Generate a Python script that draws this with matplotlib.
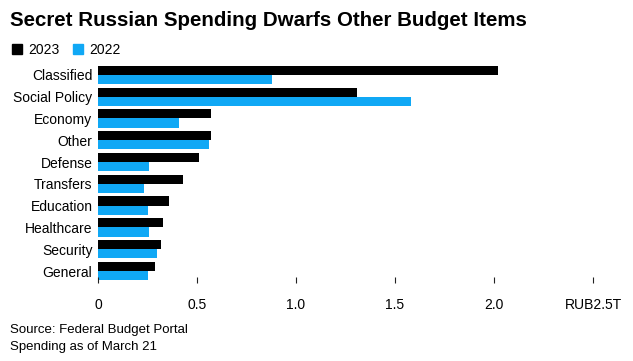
import matplotlib
matplotlib.use("Agg")
import matplotlib.pyplot as plt
from matplotlib.patches import Patch
import numpy as np

plt.rcParams['font.family'] = ['Liberation Sans', 'DejaVu Sans']

categories = ["Classified", "Social Policy", "Economy", "Other", "Defense",
              "Transfers", "Education", "Healthcare", "Security", "General"]
spend_2023 = [2.02, 1.31, 0.57, 0.57, 0.51, 0.43, 0.36, 0.33, 0.32, 0.29]
spend_2022 = [0.88, 1.58, 0.41, 0.56, 0.26, 0.23, 0.25, 0.26, 0.30, 0.25]
xticks = [0, 0.5, 1.0, 1.5, 2.0, 2.5]
xticklabels = ["0", "0.5", "1.0", "1.5", "2.0", "RUB2.5T"]

BLACK = "#000000"
BLUE = "#10A8F5"

fig = plt.figure(figsize=(6.33, 3.61), dpi=100)
ax = fig.add_axes([98 / 633, 1 - 283 / 361, 495 / 633, 219 / 361])

y = np.arange(len(categories))
h = 0.42
ax.barh(y - h / 2, spend_2023, height=h, color=BLACK)
ax.barh(y + h / 2, spend_2022, height=h, color=BLUE)

ax.set_xlim(0, 2.5)
ax.set_ylim(len(categories) - 1 + 0.55, -0.5)
ax.set_yticks(y)
ax.set_yticklabels(categories, fontsize=10)
ax.set_xticks(xticks)
ax.set_xticklabels(xticklabels, fontsize=10)
ax.tick_params(axis='y', length=0, pad=4)
ax.tick_params(axis='x', direction='in', length=4.5, width=0.8, pad=11, color="#222222")
for s in ax.spines.values():
    s.set_visible(False)

fig.text(10 / 633, 1 - 21 / 361, "Secret Russian Spending Dwarfs Other Budget Items",
         fontsize=14.8, fontweight='bold', va='center', ha='left')

handles = [Patch(color=BLACK), Patch(color=BLUE)]
fig.legend(handles, ["2023", "2022"], loc='center left',
           bbox_to_anchor=(12 / 633, 1 - 50 / 361), ncol=2, frameon=False,
           fontsize=10, handlelength=0.7, handleheight=0.7, handletextpad=0.45,
           columnspacing=1.0, borderpad=0, borderaxespad=0)

fig.text(10 / 633, 1 - 330 / 361, "Source: Federal Budget Portal", fontsize=9.5, va='center')
fig.text(10 / 633, 1 - 347 / 361, "Spending as of March 21", fontsize=9.5, va='center')

fig.savefig("out.png", dpi=100)
